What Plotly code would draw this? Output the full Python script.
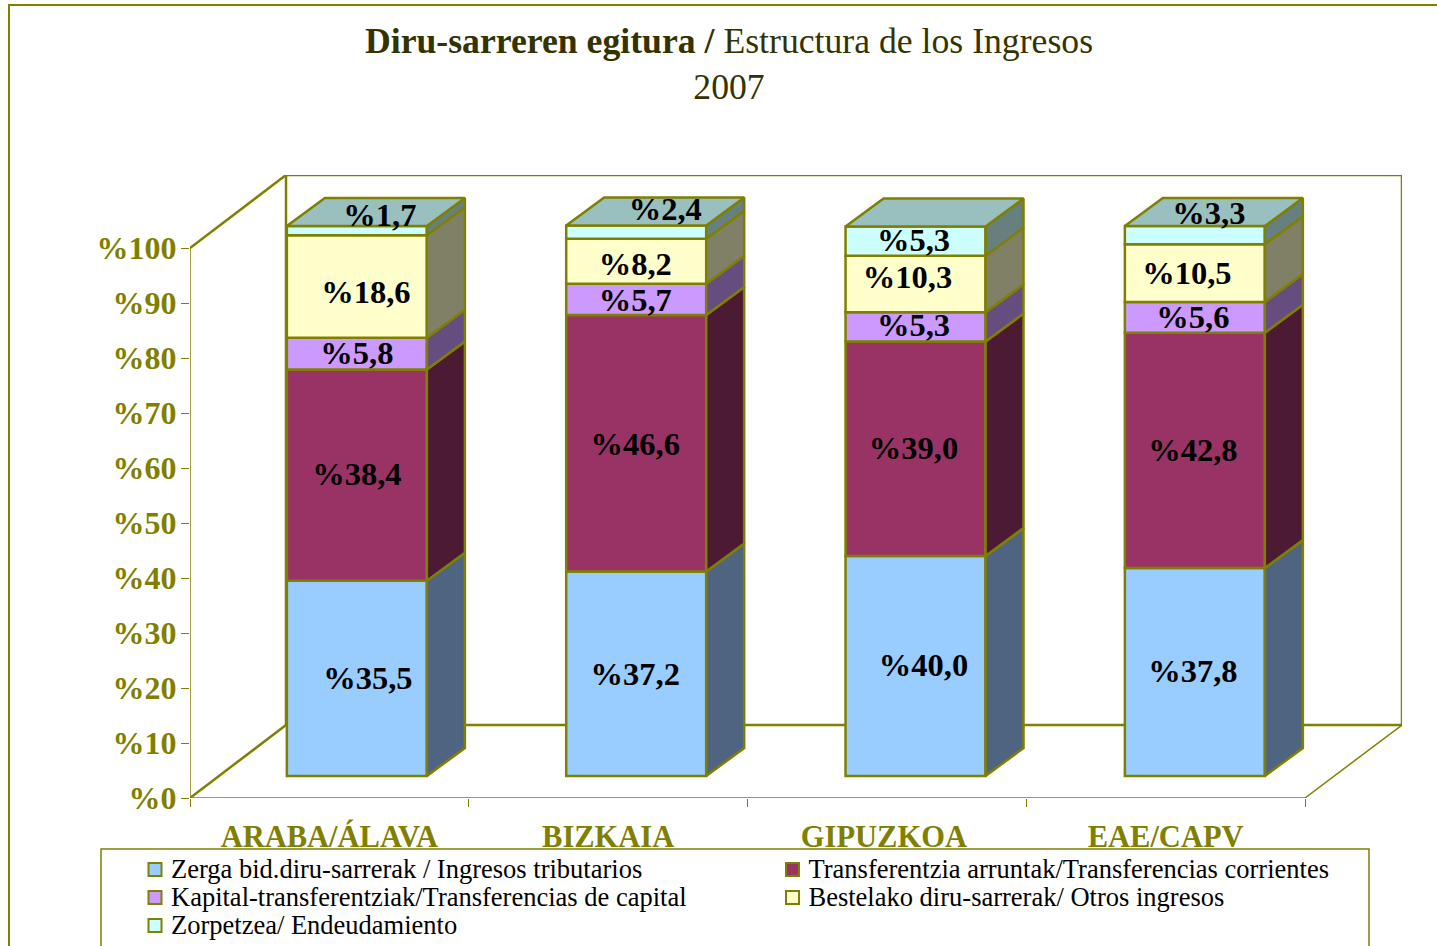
import plotly.graph_objects as go

categories = ["ARABA/ÁLAVA", "BIZKAIA", "GIPUZKOA", "EAE/CAPV"]
series_names = [
    "Zerga bid.diru-sarrerak / Ingresos tributarios",
    "Transferentzia arruntak/Transferencias corrientes",
    "Kapital-transferentziak/Transferencias de capital",
    "Bestelako diru-sarrerak/ Otros ingresos",
    "Zorpetzea/ Endeudamiento",
]
tributarios = [35.5, 37.2, 40.0, 37.8]
corrientes = [38.4, 46.6, 39.0, 42.8]
capital = [5.8, 5.7, 5.3, 5.6]
otros = [18.6, 8.2, 10.3, 10.5]
endeudamiento = [1.7, 2.4, 5.3, 3.3]
y_ticks = [0, 10, 20, 30, 40, 50, 60, 70, 80, 90, 100]
series_values = [tributarios, corrientes, capital, otros, endeudamiento]

OLIVE = "#808000"
front_colors = ["#99CCFF", "#993366", "#CC99FF", "#FFFFCC", "#CCFFFF"]
side_colors = ["#4F6480", "#4D1A33", "#664D80", "#808066", "#668080"]
top_color = "#99BFBF"

W, H = 1437, 946
PX_X0, PX_X_UNIT = 190, 278.75      # axis origin and width of one category
PX_Y0, PX_Y_UNIT = 798, 5.5         # axis origin and height of one percent
PX_RIGHT, PX_TOP = 1402, 175
BAR_PITCH = 279.33 / PX_X_UNIT      # bars sit a hair wider apart than the ticks


def ux(px):
    return px / PX_X_UNIT


def uy(px):
    return px / PX_Y_UNIT


x_max = (PX_RIGHT - PX_X0) / PX_X_UNIT
y_max = (PX_Y0 - PX_TOP) / PX_Y_UNIT
wall_dx, wall_dy = ux(96), uy(73)
bar_dx, bar_dy = ux(38), uy(28)
bar_shift_x, bar_shift_y = ux(27.5), uy(22)
bar_w = ux(140)
cat_x = [i + 0.5 for i in range(len(categories))]
bar_x = [0.5 + i * BAR_PITCH + bar_shift_x for i in range(len(categories))]
cat_label_nudge = [0, 0, -3, 0]

# cumulative stacks
bases, tops = [], []
running = [0.0] * len(categories)
for vals in series_values:
    bases.append(running[:])
    running = [r + v for r, v in zip(running, vals)]
    tops.append(running[:])

fig = go.Figure()

# front faces
for name, vals, base, col in zip(series_names, series_values, bases, front_colors):
    fig.add_trace(go.Bar(
        x=bar_x, y=vals, base=[b + bar_shift_y for b in base], width=bar_w,
        name=name, showlegend=False, hoverinfo="skip",
        marker=dict(color=col, line=dict(color=OLIVE, width=2.5)),
    ))

# side faces
for vals, base, top, col in zip(series_values, bases, tops, side_colors):
    xs, ys = [], []
    for bx, b, t in zip(bar_x, base, top):
        xr = bx + bar_w / 2
        xs += [xr, xr + bar_dx, xr + bar_dx, xr, xr, None]
        ys += [b + bar_shift_y, b + bar_shift_y + bar_dy, t + bar_shift_y + bar_dy,
               t + bar_shift_y, b + bar_shift_y, None]
    fig.add_trace(go.Scatter(x=xs, y=ys, mode="lines", fill="toself", fillcolor=col,
                             line=dict(color=OLIVE, width=2.5), showlegend=False, hoverinfo="skip"))

# top faces
xs, ys = [], []
for bx, t in zip(bar_x, tops[-1]):
    xl, xr = bx - bar_w / 2, bx + bar_w / 2
    yt = t + bar_shift_y
    xs += [xl, xr, xr + bar_dx, xl + bar_dx, xl, None]
    ys += [yt, yt, yt + bar_dy, yt + bar_dy, yt, None]
fig.add_trace(go.Scatter(x=xs, y=ys, mode="lines", fill="toself", fillcolor=top_color,
                         line=dict(color=OLIVE, width=2.5), showlegend=False, hoverinfo="skip"))

# value labels: nudges (in screen px) off the centre of each segment
label_nudge_x = [
    [11, 0, 0, 9, 23],
    [-1, -1, -1, -1, 29],
    [8, -2, -2, -8, -2],
    [-2, -2, -2, -8, 14],
]
label_nudge_y = [
    [2, 2, 2, 8, -13],
    [3, 4, 3, 6, -20],
    [2, 2, 1, -4, 2],
    [2, 2, 3, 3, -19],
]
lx, ly, lt = [], [], []
for c in range(len(categories)):
    for s in range(len(series_values)):
        lx.append(bar_x[c] + ux(label_nudge_x[c][s]))
        ly.append((bases[s][c] + tops[s][c]) / 2 + bar_shift_y - uy(label_nudge_y[c][s]))
        lt.append("%" + f"{series_values[s][c]:.1f}".replace(".", ","))
fig.add_trace(go.Scatter(x=lx, y=ly, text=lt, mode="text", showlegend=False, hoverinfo="skip",
                         textposition="middle center", cliponaxis=False,
                         textfont=dict(family="Liberation Serif", size=32.5, color="black", weight="bold")))

# legend, drawn on a full-page axis pair so that its 28px rows can be kept
legend_col_x = [155, 792.5]
legend_row_y = [869.5, 897.5, 925.5]
legend_slots = [(0, 0), (1, 0), (0, 1), (1, 1), (0, 2)]
for name, col, (cx, ry) in zip(series_names, front_colors, legend_slots):
    fig.add_trace(go.Scatter(
        x=[legend_col_x[cx]], y=[legend_row_y[ry]], xaxis="x2", yaxis="y2", mode="markers",
        name=name, showlegend=False, hoverinfo="skip",
        marker=dict(symbol="square", size=13, color=col, line=dict(color=OLIVE, width=2)),
    ))
    fig.add_trace(go.Scatter(
        x=[legend_col_x[cx] + 16], y=[legend_row_y[ry] + 2], xaxis="x2", yaxis="y2", mode="text",
        text=[name], textposition="middle right", showlegend=False, hoverinfo="skip",
        cliponaxis=False,
        textfont=dict(family="Liberation Serif", size=26.5, color="black"),
    ))

frame = dict(type="line", xref="x", yref="y", layer="below", line=dict(color=OLIVE, width=2.5))
wall_lines = [
    (0, 100, wall_dx, 100 + wall_dy),
    (0, 0, wall_dx, wall_dy),
    (wall_dx, wall_dy, wall_dx, 100 + wall_dy),
    (wall_dx, 100 + wall_dy, x_max, 100 + wall_dy),
    (x_max, 100 + wall_dy, x_max, wall_dy),
    (wall_dx, wall_dy, x_max, wall_dy),
]
thin_lines = [
    (4, 0, x_max, wall_dy),
    (0, 0, 4, 0),
    (0, 0, 0, 100),
]
shapes = [dict(frame, x0=a, y0=b, x1=c, y1=d) for a, b, c, d in wall_lines]
shapes += [dict(frame, x0=a, y0=b, x1=c, y1=d, line=dict(color=OLIVE, width=1.5)) for a, b, c, d in thin_lines]
# outer chart border and legend box, both run off the page edge
shapes.append(dict(type="rect", xref="paper", yref="paper", layer="below",
                   x0=9 / W, x1=1.02, y0=-0.02, y1=1 - 5 / H,
                   line=dict(color=OLIVE, width=2)))
shapes.append(dict(type="rect", xref="paper", yref="paper", layer="above",
                   x0=101 / W, x1=1369 / W, y0=-0.02, y1=1 - 849 / H,
                   line=dict(color=OLIVE, width=1.5)))

fig.update_layout(
    width=W, height=H, margin=dict(l=0, r=0, t=0, b=0, autoexpand=False),
    paper_bgcolor="white", plot_bgcolor="rgba(0,0,0,0)",
    barmode="overlay", showlegend=False, shapes=shapes,
    font=dict(family="Liberation Serif"),
    title=dict(
        text="<b>Diru-sarreren egitura / </b>Estructura de los Ingresos<br>2007",
        x=729 / W, xanchor="center", xref="paper", y=1 - 53 / H, yanchor="top", yref="paper",
        automargin=False,
        font=dict(family="Liberation Serif", size=35.7, color="#333300"),
    ),
    xaxis=dict(
        domain=[PX_X0 / W, PX_RIGHT / W], range=[0, x_max], showgrid=False, zeroline=False,
        showline=False, automargin=False, tickmode="array",
        tickvals=[c + ux(n) for c, n in zip(cat_x, cat_label_nudge)], ticktext=categories, ticks="",
        tickfont=dict(family="Liberation Serif", size=30.5, color=OLIVE, weight="bold"),
        ticklabelstandoff=17,
        minor=dict(tickmode="array", tickvals=[0, 1, 2, 3, 4], ticks="outside", ticklen=8,
                   tickcolor=OLIVE, tickwidth=1, showgrid=False),
    ),
    yaxis=dict(
        domain=[1 - PX_Y0 / H, 1 - PX_TOP / H], range=[0, y_max], showgrid=False, zeroline=False,
        showline=False, automargin=False, tickmode="array", tickvals=y_ticks, ticktext=[f"%{v}" for v in y_ticks],
        ticks="outside", ticklen=8, tickcolor=OLIVE, tickwidth=1, ticklabelstandoff=-2,
        tickfont=dict(family="Liberation Serif", size=32, color=OLIVE, weight="bold"),
    ),
    xaxis2=dict(domain=[0, 1], range=[0, W], visible=False, anchor="y2", automargin=False),
    yaxis2=dict(domain=[0, 1], range=[H, 0], visible=False, anchor="x2", automargin=False),
)

fig.write_html("out.html", config=dict(displayModeBar=False),
               post_script="document.body.style.margin='0';")
